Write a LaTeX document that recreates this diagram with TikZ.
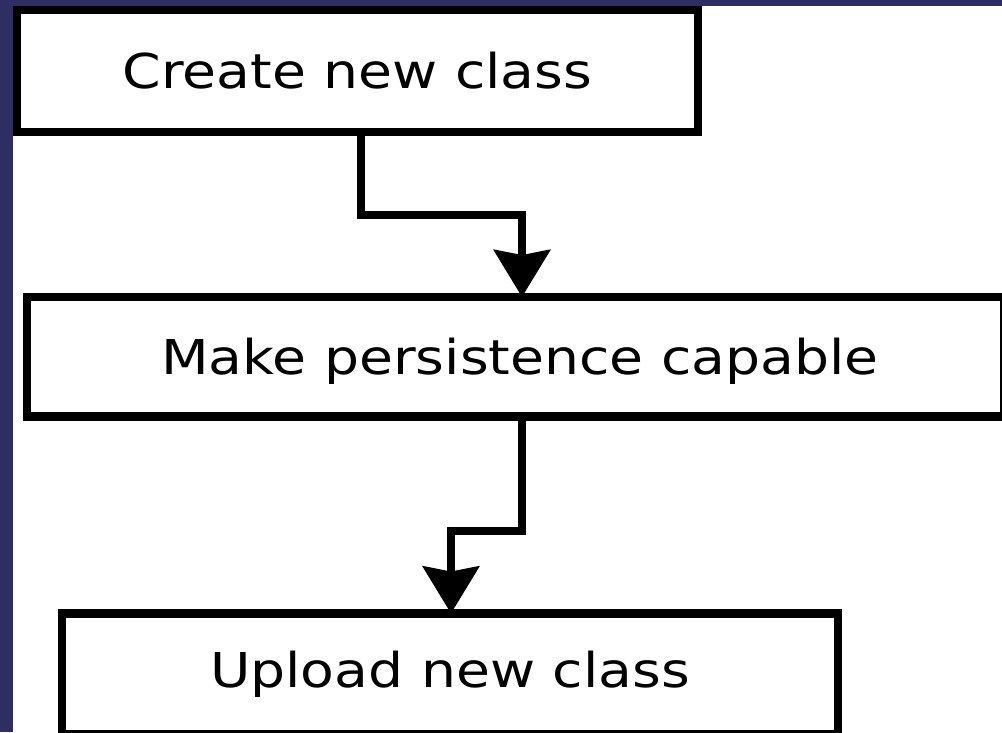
\documentclass[tikz,border=0pt]{standalone}
\usepackage{fontspec}
\setmainfont{DejaVu Sans}
\usetikzlibrary{arrows.meta}
\definecolor{navy}{RGB}{47,46,99}
\tikzset{
  stepbox/.style={draw=black, line width=8.5pt, rectangle, outer sep=0pt, inner sep=0pt,
    text height=35pt, text depth=0pt, font=\fontsize{48}{58}\selectfont},
  conn/.style={draw=black, line width=8.5pt, -{Stealth[length=47pt, width=56pt, inset=5pt]}}
}
\newcommand{\wide}[1]{\scalebox{1.15}[1]{#1}}
\begin{document}
\begin{tikzpicture}[x=1pt,y=-1pt]
  \useasboundingbox (0,0) rectangle (1002,732);
  \fill[navy] (0,0) rectangle (1002,732);
  \fill[white] (13,6) rectangle (1002,732);
  \begin{scope}
  \clip (13,6) rectangle (1002,732);
  \node[stepbox, minimum width=681pt, minimum height=122.5pt] (b1) at (357.5,70.75) {\wide{Create new class}};
  \node[stepbox, minimum width=977pt, minimum height=119.5pt] (b2) at (515.5,356.75) {\hspace*{9pt}\wide{Make persistence capable}};
  \node[stepbox, minimum width=776pt, minimum height=120.5pt, text depth=8.5pt] (b3) at (450,673.75) {\wide{Upload new class}};
  \coordinate (k1) at (361,215);
  \coordinate (k2) at (522,215);
  \coordinate (k3) at (522,531);
  \coordinate (k4) at (451,531);
  \draw[conn] (b1.south -| k1) -- (k1) -- (k2) -- (b2.north -| k2);
  \draw[conn] (b2.south -| k3) -- (k3) -- (k4) -- (b3.north -| k4);
  \end{scope}
\end{tikzpicture}
\end{document}
